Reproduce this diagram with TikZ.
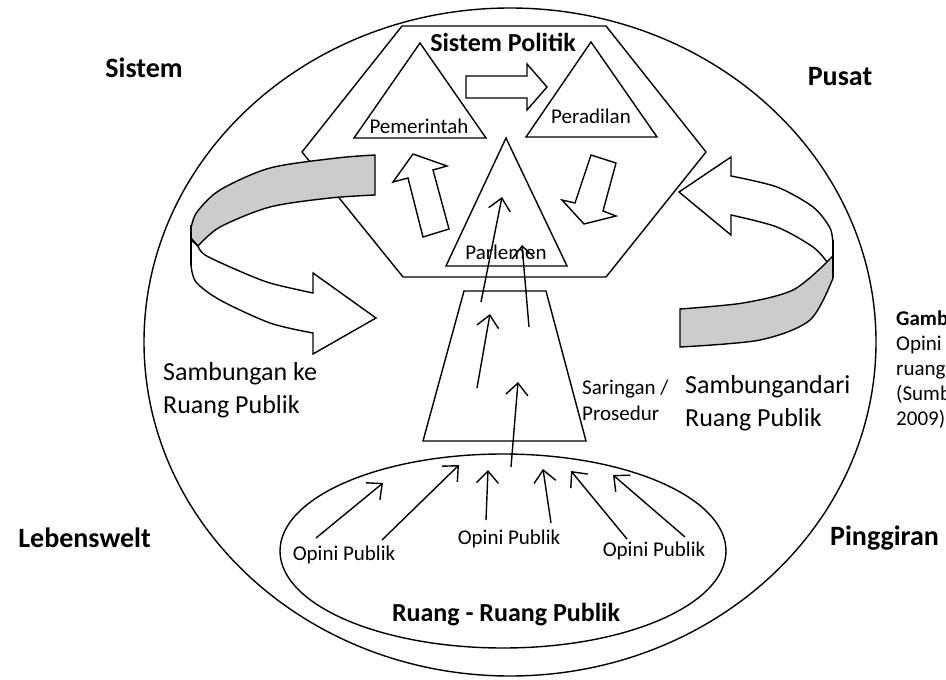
\documentclass[tikz,border=0pt]{standalone}
\usepackage{fontspec}
\setmainfont{Carlito}
\usetikzlibrary{arrows.meta}

\begin{document}
\begin{tikzpicture}[
            x=1pt, y=-1pt,
            every node/.style={inner sep=0pt},
            outline/.style={draw, line width=1.4pt},
            ribbon/.style={outline, fill=white},
            ribbon back/.style={outline, fill=black!20},
            flow/.style={-{Straight Barb[length=12pt, width=22pt]}, line width=1.4pt},
            big label/.style={font=\fontsize{28}{32}\selectfont\bfseries},
            title label/.style={font=\fontsize{26}{30}\selectfont\bfseries},
            side label/.style={font=\fontsize{26}{33}\selectfont, align=left},
            small label/.style={font=\fontsize{21}{26}\selectfont}
        ]
        \useasboundingbox (0,0) rectangle (946,680);

        % outer boundary
        \draw[outline] (510,342) ellipse [x radius=366, y radius=334];

        % sistem politik
        \draw[outline] (402,26) -- (606,26) -- (706,152) -- (606,277) -- (403,277) -- (302,152) -- cycle;
        \draw[outline] (420,43) -- (486,138) -- (354,138) -- cycle;
        \draw[outline] (591,42) -- (657,137) -- (526,137) -- cycle;
        \draw[outline] (506,138) -- (567,266) -- (446,266) -- cycle;

        \draw[ribbon] (466,76) -- (527,76) -- (527,64) -- (547,87) -- (527,110) -- (527,98) -- (466,98) -- cycle;
        \draw[ribbon] (591,155) -- (575,203) -- (562,200) -- (584,224) -- (616,216) -- (603,211) -- (616,163) -- cycle;
        \draw[ribbon] (423,237) -- (408,178) -- (393,182) -- (413,154) -- (447,166) -- (433,170) -- (449,229) -- cycle;

        \node[title label] (politik) at (503,42) {Sistem Politik};
        \node[small label] (pemerintah) at (419,126) {Pemerintah};
        \node[small label] (peradilan) at (591,116) {Peradilan};
        \node[small label] (parlemen) at (506,252) {Parlemen};

        % saringan dan ruang publik
        \draw[outline] (464,291) -- (546,291) -- (586,441) -- (423,441) -- cycle;
        \draw[outline] (503,551) ellipse [x radius=223, y radius=97];

        \node[small label, align=left, anchor=west] (saringan) at (582,400) {Saringan /\\Prosedur};
        \node[small label] (opini1) at (344,555) {Opini Publik};
        \node[small label] (opini2) at (509,539) {Opini Publik};
        \node[small label] (opini3) at (654,551) {Opini Publik};
        \node[title label] (ruang) at (506,615) {Ruang - Ruang Publik};

        \coordinate (o1) at (316,538); \coordinate (o1t) at (383,483);
        \coordinate (o2) at (382,540); \coordinate (o2t) at (459,465);
        \coordinate (o3) at (486,520); \coordinate (o3t) at (488,470);
        \coordinate (o4) at (551,523); \coordinate (o4t) at (543,469);
        \coordinate (o5) at (627,539); \coordinate (o5t) at (571,471);
        \coordinate (o6) at (685,537); \coordinate (o6t) at (613,475);
        \coordinate (up1) at (511,467); \coordinate (up1t) at (518,382);
        \coordinate (up2) at (477,388); \coordinate (up2t) at (490,314);
        \coordinate (up3) at (481,302); \coordinate (up3t) at (502,197);
        \coordinate (up4) at (529,327); \coordinate (up4t) at (522,245);

        \draw[flow] (o1) -- (o1t);
        \draw[flow] (o2) -- (o2t);
        \draw[flow] (o3) -- (o3t);
        \draw[flow] (o4) -- (o4t);
        \draw[flow] (o5) -- (o5t);
        \draw[flow] (o6) -- (o6t);
        \draw[flow] (up1) -- (up1t);
        \draw[flow] (up2) -- (up2t);
        \draw[flow] (up3) -- (up3t);
        \draw[flow] (up4) -- (up4t);

        % sambungan ke ruang publik
        \draw[ribbon] (191,240) -- (191,265) -- plot[smooth] coordinates {(191,265) (196,282) (220,300) (270,323) (313,333)} -- (313,354) -- (376,318) -- (313,273) -- (313,293) -- plot[smooth] coordinates {(313,293) (270,283) (237,270) (205,255) (198,246)} -- cycle;
        \draw[ribbon back] plot[smooth] coordinates {(375,155) (337,158) (270,168) (220,190) (197,212) (191,228)} -- (191,238) -- (198,246) -- plot[smooth] coordinates {(198,246) (220,227) (270,207) (330,198) (375,195)} -- cycle;
        \draw[outline] (191,225) -- (191,265);

        % sambungan dari ruang publik
        \draw[ribbon] plot[smooth] coordinates {(731,176) (777,187) (813,207) (830,228) (833,245)} -- (833,256) -- (827,262) -- plot[smooth] coordinates {(827,262) (813,247) (777,227) (731,215)} -- (731,235) -- (679,192) -- (731,157) -- cycle;
        \draw[ribbon back] plot[smooth] coordinates {(827,262) (793,290) (743,303) (680,309)} -- (680,347) -- plot[smooth] coordinates {(680,347) (760,340) (810,320) (833,278)} -- (833,256) -- cycle;
        \draw[outline] (833,240) -- (833,278);

        \node[side label, anchor=west] (kiri) at (163,390) {Sambungan ke\\Ruang Publik};
        \node[side label, anchor=west] (kanan) at (685,403) {Sambungandari\\Ruang Publik};

        % sudut
        \node[big label] (sistem) at (144,68) {Sistem};
        \node[big label] (pusat) at (840,77) {Pusat};
        \node[big label, anchor=east] (lebenswelt) at (151,538) {Lebenswelt};
        \node[big label, anchor=west] (pinggiran) at (830,538) {Pinggiran};

        \node[font=\fontsize{21}{25}\selectfont, align=left, anchor=north west] (gambar) at (896,311) {\textbf{Gamb}\\Opini\\ruang\\(Sumb\\2009)};
        \end{tikzpicture}
\end{document}
